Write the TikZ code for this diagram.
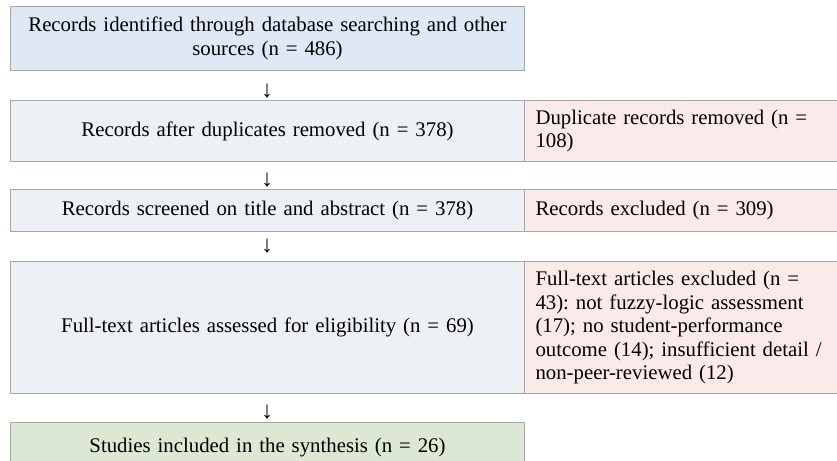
\documentclass[tikz,border=0pt]{standalone}
\usepackage{fontspec}
\setmainfont{Liberation Serif}
\frenchspacing

\definecolor{topblue}{HTML}{DFE8F5}
\definecolor{stepgray}{HTML}{EDF0F5}
\definecolor{exclpink}{HTML}{FBEAEA}
\definecolor{inclgreen}{HTML}{DDE8D4}
\definecolor{rulegray}{HTML}{A6A6A6}

\tikzset{
  stage/.style={draw=rulegray, line width=1pt, anchor=north west, inner xsep=4pt,
    inner ysep=2pt, minimum width=514pt, text width=506pt, align=center,
    fill=stepgray, font=\fontsize{20.8}{23.5}\selectfont},
  side/.style={stage, inner xsep=11pt, minimum width=322pt, text width=300pt,
    align=left, fill=exclpink},
  down/.style={inner sep=0pt, font=\fontsize{24}{26}\selectfont}
}

\begin{document}
\begin{tikzpicture}[x=1pt, y=-1pt]
\clip (0,0) rectangle (837,460);
\useasboundingbox (0,0) rectangle (837,460);

% identification
\node[stage, fill=topblue, minimum height=64pt] (ident) at (10,6)
  {Records identified through database searching and other\\ sources (n = 486)};

% screening
\node[stage, minimum height=61pt] (dedup) at (10,100)
  {Records after duplicates removed (n = 378)};
\node[side, minimum height=61pt] (dupl) at (524,100)
  {Duplicate records removed (n =\\ 108)};
\node[stage, minimum height=42pt] (screen) at (10,189)
  {Records screened on title and abstract (n = 378)};
\node[side, minimum height=42pt] (excl) at (524,189)
  {Records excluded (n = 309)};

% eligibility
\node[stage, minimum height=132pt] (full) at (10,261)
  {Full-text articles assessed for eligibility (n = 69)};
\node[side, minimum height=132pt] (fullex) at (524,261)
  {Full-text articles excluded (n =\\ 43): not fuzzy-logic assessment\\
   (17); no student-performance\\ outcome (14); insufficient detail /\\
   non-peer-reviewed (12)};

% included
\node[stage, fill=inclgreen, minimum height=50pt] (incl) at (10,422)
  {Studies included in the synthesis (n = 26)};

% arrows between the stages
\foreach \y/\n in {91/a1, 180/a2, 246/a3, 412/a4}
  \node[down] (\n) at (267,\y) {↓};
\end{tikzpicture}
\end{document}
